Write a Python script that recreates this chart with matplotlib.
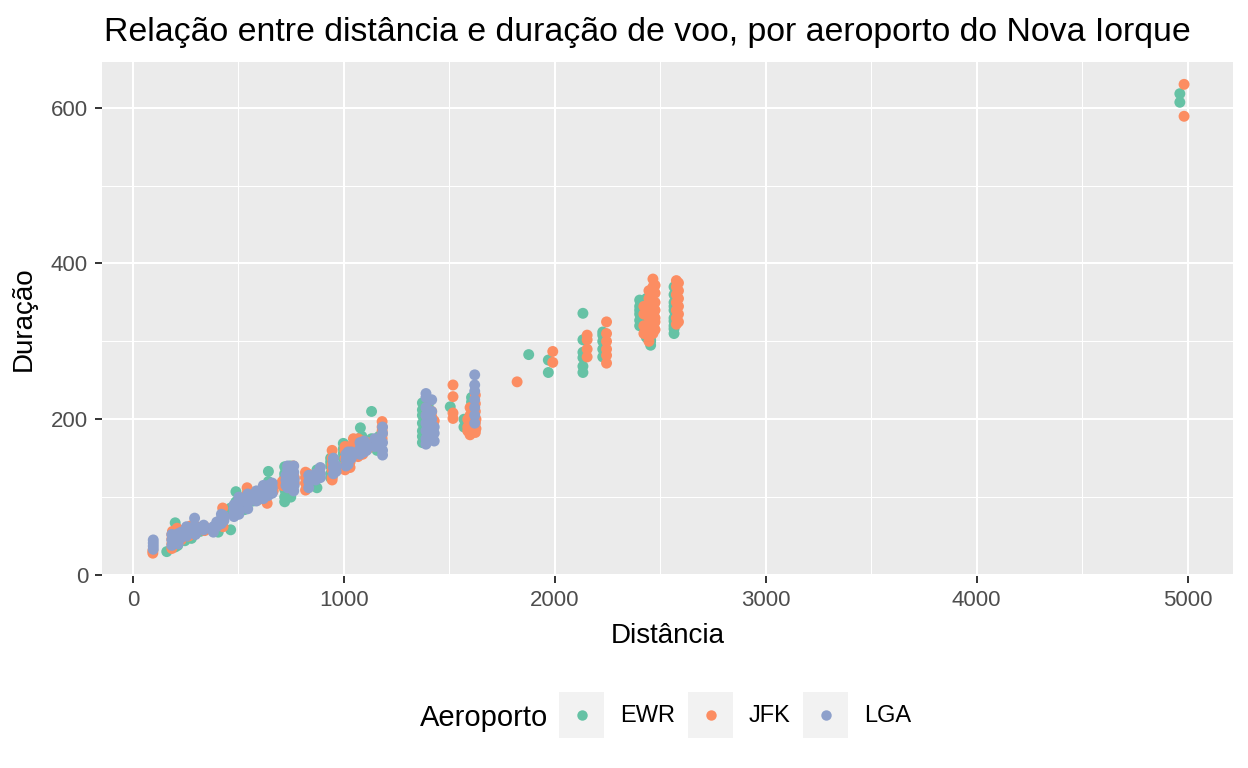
import matplotlib
matplotlib.use('Agg')
import matplotlib.pyplot as plt
from matplotlib.patches import Rectangle
from matplotlib.lines import Line2D

plt.rcParams['font.family'] = ['Liberation Sans', 'DejaVu Sans']

# distância e duração (air time) por aeroporto
ewr_dist = [160, 200, 200, 200, 200, 212, 212, 212, 246, 246, 246, 277, 277,
            284, 284, 284, 319, 319, 404, 404, 404, 416, 416, 463, 463, 463,
            488, 488, 488, 488, 529, 529, 529, 529, 569, 569, 569, 605, 605,
            628, 628, 628, 642, 642, 642, 719, 719, 719, 719, 719, 719, 719,
            725, 725, 725, 746, 746, 746, 746, 746, 748, 748, 748, 820, 820, 820,
            872, 872, 872, 937, 937, 937, 937, 937, 946, 946, 997, 997, 997, 997,
            1008, 1008, 1008, 1008, 1023, 1023, 1023, 1065, 1065, 1065, 1068, 1068,
            1078, 1078, 1085, 1085, 1085, 1092, 1092, 1131, 1131, 1131,
            1157, 1157, 1157, 1167, 1167, 1167,
            1372, 1372, 1372, 1372, 1372, 1372, 1372, 1400, 1400, 1400, 1400, 1400, 1400,
            1411, 1411, 1411, 1504, 1569, 1569,
            1605, 1605, 1605, 1605, 1605, 1605, 1608, 1608, 1608,
            1876, 1969, 1969,
            2133, 2133, 2133, 2133, 2133, 2133, 2227, 2227, 2227, 2227, 2227,
            2402, 2402, 2402, 2402, 2402, 2402, 2425, 2425, 2425, 2425,
            2434, 2434, 2434, 2434, 2434,
            2454, 2454, 2454, 2454, 2454, 2454, 2454, 2454,
            2565, 2565, 2565, 2565, 2565, 2565, 2565, 2565, 2565, 2565,
            4963, 4963]
ewr_dur = [30, 67, 48, 40, 36, 44, 52, 38, 50, 56, 44, 54, 47,
           58, 62, 51, 56, 60, 55, 60, 65, 63, 70, 58, 80, 86,
           107, 84, 90, 94, 84, 90, 96, 100, 95, 100, 104, 98, 103,
           100, 108, 112, 133, 115, 120, 110, 118, 125, 130, 139, 100, 94,
           115, 120, 105, 125, 130, 135, 140, 118, 120, 110, 100, 130, 125, 118,
           125, 135, 112, 130, 140, 150, 145, 125, 128, 135, 150, 156, 162, 169,
           140, 148, 155, 160, 145, 152, 158, 160, 166, 155, 165, 158,
           189, 170, 170, 160, 178, 165, 172, 210, 175, 165,
           165, 170, 160, 172, 178, 165,
           170, 178, 185, 195, 205, 212, 221, 180, 190, 200, 208, 215, 220,
           175, 185, 196, 216, 200, 190,
           205, 215, 222, 228, 195, 185, 200, 210, 190,
           283, 276, 260,
           336, 302, 286, 279, 268, 260, 308, 300, 290, 280, 312,
           327, 340, 353, 335, 320, 345, 330, 315, 338, 348,
           305, 318, 330, 345, 355,
           295, 302, 310, 322, 336, 350, 360, 300,
           310, 320, 330, 340, 350, 360, 370, 316, 326, 345,
           607, 618]

jfk_dist = [94, 94, 184, 184, 184, 184, 187, 187, 187, 187, 209, 209, 209,
            213, 213, 213, 228, 228, 228, 264, 264, 264, 273, 273, 273, 290, 290,
            301, 301, 340, 340, 425, 425, 425, 427, 427, 483, 483, 509, 509,
            541, 541, 541, 541, 589, 589, 636, 636, 636, 665, 665, 708, 708,
            740, 740, 740, 740, 760, 760, 760, 760, 765, 765, 818, 818, 818, 818,
            828, 828, 944, 944, 944, 944, 944, 944, 1005, 1005, 1005, 1005, 1005,
            1028, 1028, 1028, 1028, 1029, 1029, 1045, 1045,
            1067, 1067, 1067, 1067, 1074, 1074, 1089, 1089, 1089, 1113, 1113,
            1181, 1181, 1181, 1181, 1181, 1391, 1391, 1416, 1416, 1428,
            1517, 1517, 1517, 1517, 1587, 1587, 1587,
            1598, 1598, 1598, 1598, 1598, 1598, 1623, 1623, 1623, 1623, 1623,
            1626, 1626, 1821, 1990, 1990,
            2153, 2153, 2153, 2153, 2245, 2245, 2245, 2245, 2245, 2245,
            2422, 2422, 2422, 2422, 2446, 2446, 2446, 2446, 2446, 2446,
            2454, 2454, 2454, 2454, 2465, 2465, 2465, 2465, 2465, 2465,
            2475, 2475, 2475, 2475, 2475, 2475, 2475,
            2576, 2576, 2576, 2576, 2576, 2576, 2576,
            2586, 2586, 2586, 2586, 2586, 2586,
            4983, 4983]
jfk_dur = [28, 31, 40, 46, 52, 34, 44, 50, 56, 38, 48, 55, 60,
           45, 53, 58, 50, 57, 45, 55, 60, 50, 52, 58, 63, 55, 60,
           58, 62, 62, 57, 86, 74, 66, 70, 62, 78, 85, 90, 95,
           112, 95, 100, 105, 100, 96, 92, 105, 110, 108, 115, 115, 120,
           120, 128, 135, 112, 122, 130, 140, 115, 125, 118, 109, 118, 125, 132,
           130, 122, 125, 135, 142, 150, 160, 122, 140, 150, 160, 165, 135,
           148, 155, 160, 165, 145, 138, 175, 168,
           167, 175, 160, 152, 160, 170, 165, 172, 155, 170, 162,
           197, 190, 185, 180, 175, 205, 215, 203, 210, 198,
           244, 229, 208, 201, 200, 190, 185,
           190, 195, 205, 215, 185, 180, 231, 220, 210, 195, 183,
           200, 188, 248, 287, 273,
           308, 302, 290, 280, 325, 310, 300, 290, 282, 272,
           310, 320, 335, 345, 300, 315, 330, 345, 355, 365,
           320, 330, 340, 360, 380, 370, 350, 335, 320, 310,
           330, 340, 350, 362, 372, 325, 315,
           378, 370, 360, 350, 340, 330, 322,
           375, 365, 355, 345, 335, 325,
           589, 630]

lga_dist = [96, 96, 96, 96, 184, 184, 184, 198, 198, 214, 214, 214, 229, 229,
            254, 254, 254, 269, 269, 292, 292, 292, 296, 296, 335, 335, 381, 381,
            397, 397, 419, 419, 419, 431, 431, 479, 479, 479, 479,
            502, 502, 502, 502, 502, 544, 544, 544, 544, 585, 585, 585, 602, 602,
            618, 618, 618, 641, 641, 641, 660, 660, 660, 725, 725, 725,
            733, 733, 733, 733, 733, 745, 745, 762, 762, 762, 762, 762, 764, 764,
            833, 833, 833, 866, 866, 888, 888, 888, 950, 950, 950, 950, 963, 963,
            1010, 1010, 1010, 1020, 1020, 1020, 1035, 1035, 1076, 1076, 1076,
            1096, 1096, 1096, 1107, 1107, 1147, 1147,
            1183, 1183, 1183, 1183, 1183,
            1389, 1389, 1389, 1389, 1389, 1389, 1389, 1389,
            1416, 1416, 1416, 1416, 1416, 1428, 1428, 1428,
            1620, 1620, 1620, 1620, 1620, 1620, 1620]
lga_dur = [33, 37, 41, 45, 38, 45, 52, 42, 50, 46, 53, 40, 48, 55,
           50, 56, 62, 55, 60, 73, 58, 63, 60, 52, 58, 64, 55, 62,
           62, 68, 66, 72, 78, 70, 76, 80, 85, 90, 75,
           82, 90, 95, 100, 78, 85, 92, 98, 104, 95, 102, 108, 100, 106,
           98, 108, 115, 102, 110, 115, 105, 112, 118, 115, 122, 128,
           112, 120, 128, 135, 140, 118, 124, 118, 125, 132, 140, 108, 115, 122,
           120, 128, 112, 122, 130, 125, 130, 138, 130, 138, 145, 150, 133, 140,
           140, 148, 155, 150, 158, 142, 150, 158, 155, 162, 170,
           158, 165, 172, 160, 168, 165, 175,
           190, 182, 170, 160, 154,
           233, 228, 215, 205, 195, 185, 175, 168,
           225, 210, 200, 190, 180, 190, 172, 182,
           257, 244, 236, 225, 215, 205, 195]

aeroportos = ['EWR', 'JFK', 'LGA']
cores = ['#66C2A5', '#FC8D62', '#8DA0CB']

x_ticks = [0, 1000, 2000, 3000, 4000, 5000]
y_ticks = [0, 200, 400, 600]

W, H = 1248, 768
fig = plt.figure(figsize=(W / 100, H / 100), dpi=100)


def fx(px):
    return px / W


def fy(py):
    return 1 - py / H


ax = fig.add_axes([fx(102), fy(576), fx(1233) - fx(102), fy(62) - fy(576)])
ax.set_facecolor('#EBEBEB')
for s in ax.spines.values():
    s.set_visible(False)

series = [(ewr_dist, ewr_dur), (jfk_dist, jfk_dur), (lga_dist, lga_dur)]
for (d, t), cor in zip(series, cores):
    ax.scatter(d, t, s=62, color=cor, edgecolors='none', zorder=3)

ax.set_xlim(-147, 5215)
ax.set_ylim(-1.3, 658.7)
ax.set_xticks(x_ticks)
ax.set_yticks(y_ticks)
ax.set_xticks([500, 1500, 2500, 3500, 4500], minor=True)
ax.set_yticks([100, 300, 500], minor=True)
ax.grid(which='major', color='white', linewidth=1.45, zorder=1)
ax.grid(which='minor', color='white', linewidth=0.75, zorder=1)
ax.set_axisbelow(True)
ax.tick_params(which='major', length=5, width=1.4, color='#333333',
               labelcolor='#4D4D4D', labelsize=16, pad=5)
ax.tick_params(which='minor', length=0)

ax.set_xlabel('Distância', fontsize=20, labelpad=9)
ax.set_ylabel('Duração', fontsize=20, labelpad=10)

fig.text(fx(104), fy(41), 'Relação entre distância e duração de voo, por aeroporto do Nova Iorque',
         fontsize=24.4, ha='left', va='baseline')

# legenda embaixo, horizontal
fig.text(fx(420), fy(718), 'Aeroporto', fontsize=21, ha='left', va='center')
caixas = [559, 688, 803]
for x0, nome, cor in zip(caixas, aeroportos, cores):
    fig.add_artist(Rectangle((fx(x0), fy(738)), fx(45), fy(692) - fy(738),
                             transform=fig.transFigure, facecolor='#F2F2F2',
                             edgecolor='none'))
    fig.add_artist(Line2D([fx(x0 + 22.5)], [fy(715)], marker='o', markersize=7.5,
                          color=cor, markeredgewidth=0, transform=fig.transFigure))
    fig.text(fx(x0 + 61), fy(716), nome, fontsize=17, ha='left', va='center')

fig.savefig('out.png', dpi=100)
